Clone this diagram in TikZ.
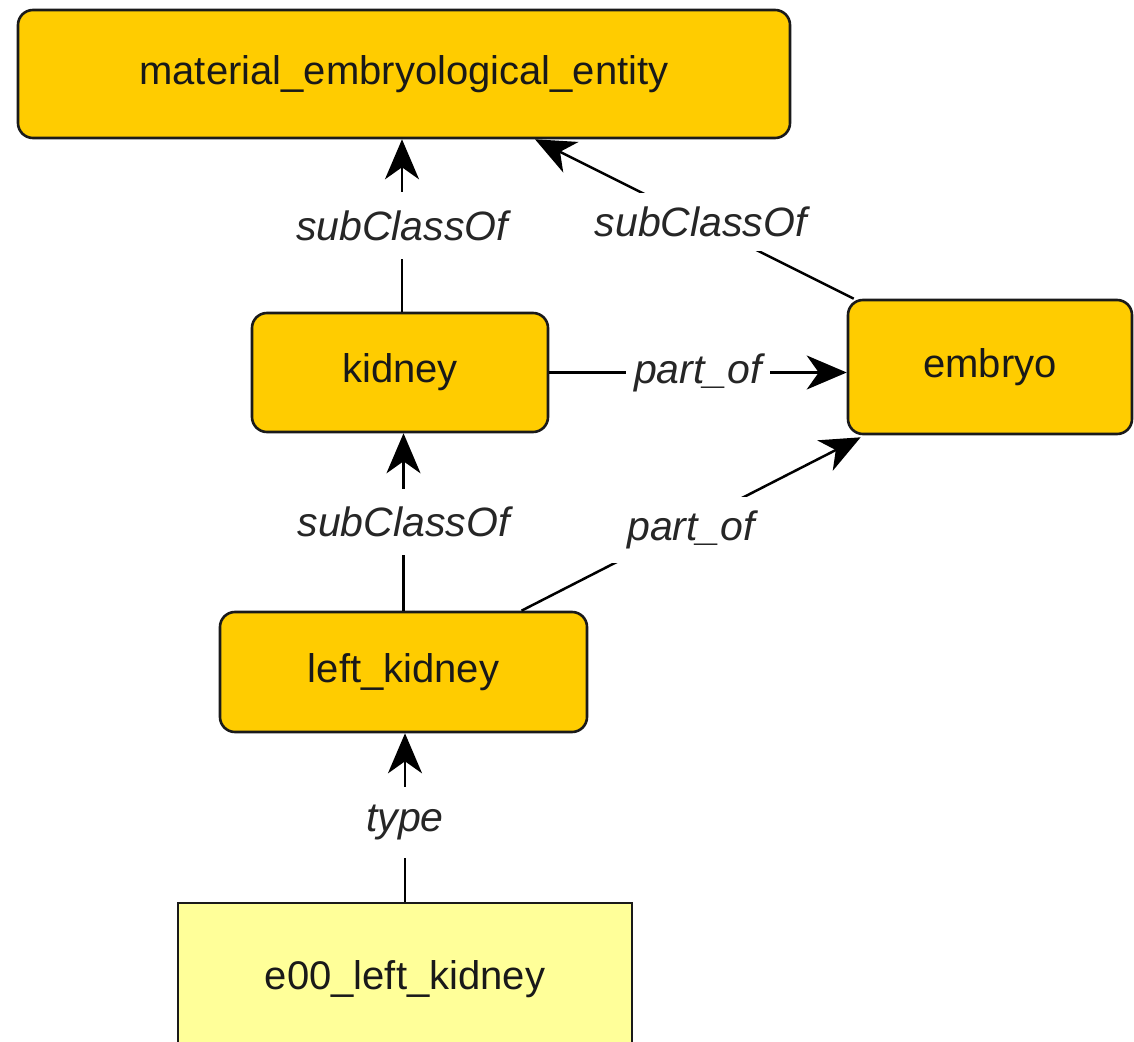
\documentclass[tikz,border=0pt]{standalone}
\usepackage{fontspec}
\setmainfont{Liberation Sans}
\usetikzlibrary{arrows.meta}
\definecolor{gold}{HTML}{FFCC00}
\definecolor{pale}{HTML}{FFFF99}
\definecolor{edge}{HTML}{1A1A1A}
\tikzset{
  cls/.style={draw=edge, line width=1.3pt, fill=gold, rounded corners=7.5pt,
    font=\fontsize{20}{24}\selectfont, text=black!90, inner sep=0pt},
  inst/.style={draw=edge, line width=1.3pt, fill=pale,
    font=\fontsize{20}{24}\selectfont, text=black!90, inner sep=0pt},
  rel/.style={draw=black, line width=1.25pt,
    -{Stealth[length=20pt, width=17pt, inset=6pt]}},
  lbl/.style={fill=white, font=\fontsize{20.5}{24}\itshape, text=black!85,
    inner xsep=4pt, inner ysep=9pt},
  dlbl/.style={lbl, inner xsep=8pt, inner ysep=7pt}
}
\begin{document}
\begin{tikzpicture}[x=0.5pt, y=-0.5pt]
\useasboundingbox (0,0) rectangle (1134,1042);
\clip (0,0) rectangle (1134,1042);
\fill[white] (0,0) rectangle (1134,1042);

\node[cls, minimum width=386pt, minimum height=64pt] (mee) at (404,74) {material\_embryological\_entity};
\node[cls, minimum width=148pt, minimum height=59.5pt] (kidney) at (400,372.5) {kidney};
\node[cls, minimum width=142pt, minimum height=67pt] (embryo) at (990,367) {embryo};
\node[cls, minimum width=183.5pt, minimum height=60pt] (lk) at (403.5,672) {left\_kidney};
\node[inst, minimum width=227pt, minimum height=76pt] (e00) at (405,979) {e00\_left\_kidney};

\draw[rel] ([xshift=1pt]kidney.north) -- ([xshift=1pt]kidney.north |- mee.south)
  node[lbl, pos=0.5] {subClassOf};
\draw[rel] ([xshift=3.5pt]embryo.north west) -- ([xshift=65.5pt]mee.south)
  node[dlbl, pos=0.48] {subClassOf};
\draw[rel] (kidney.east) -- (kidney.east -| embryo.west)
  node[lbl, pos=0.5, inner ysep=4pt] {part\_of};
\draw[rel] ([xshift=0pt]lk.north) -- (lk.north |- kidney.south)
  node[lbl, pos=0.5] {subClassOf};
\draw[rel] ([xshift=59pt]lk.north) -- ([xshift=7pt,yshift=-1pt]embryo.south west)
  node[dlbl, pos=0.5, yshift=-3pt] {part\_of};
\draw[rel] (e00.north) -- (e00.north |- lk.south)
  node[lbl, pos=0.47] {type};
\end{tikzpicture}
\end{document}
